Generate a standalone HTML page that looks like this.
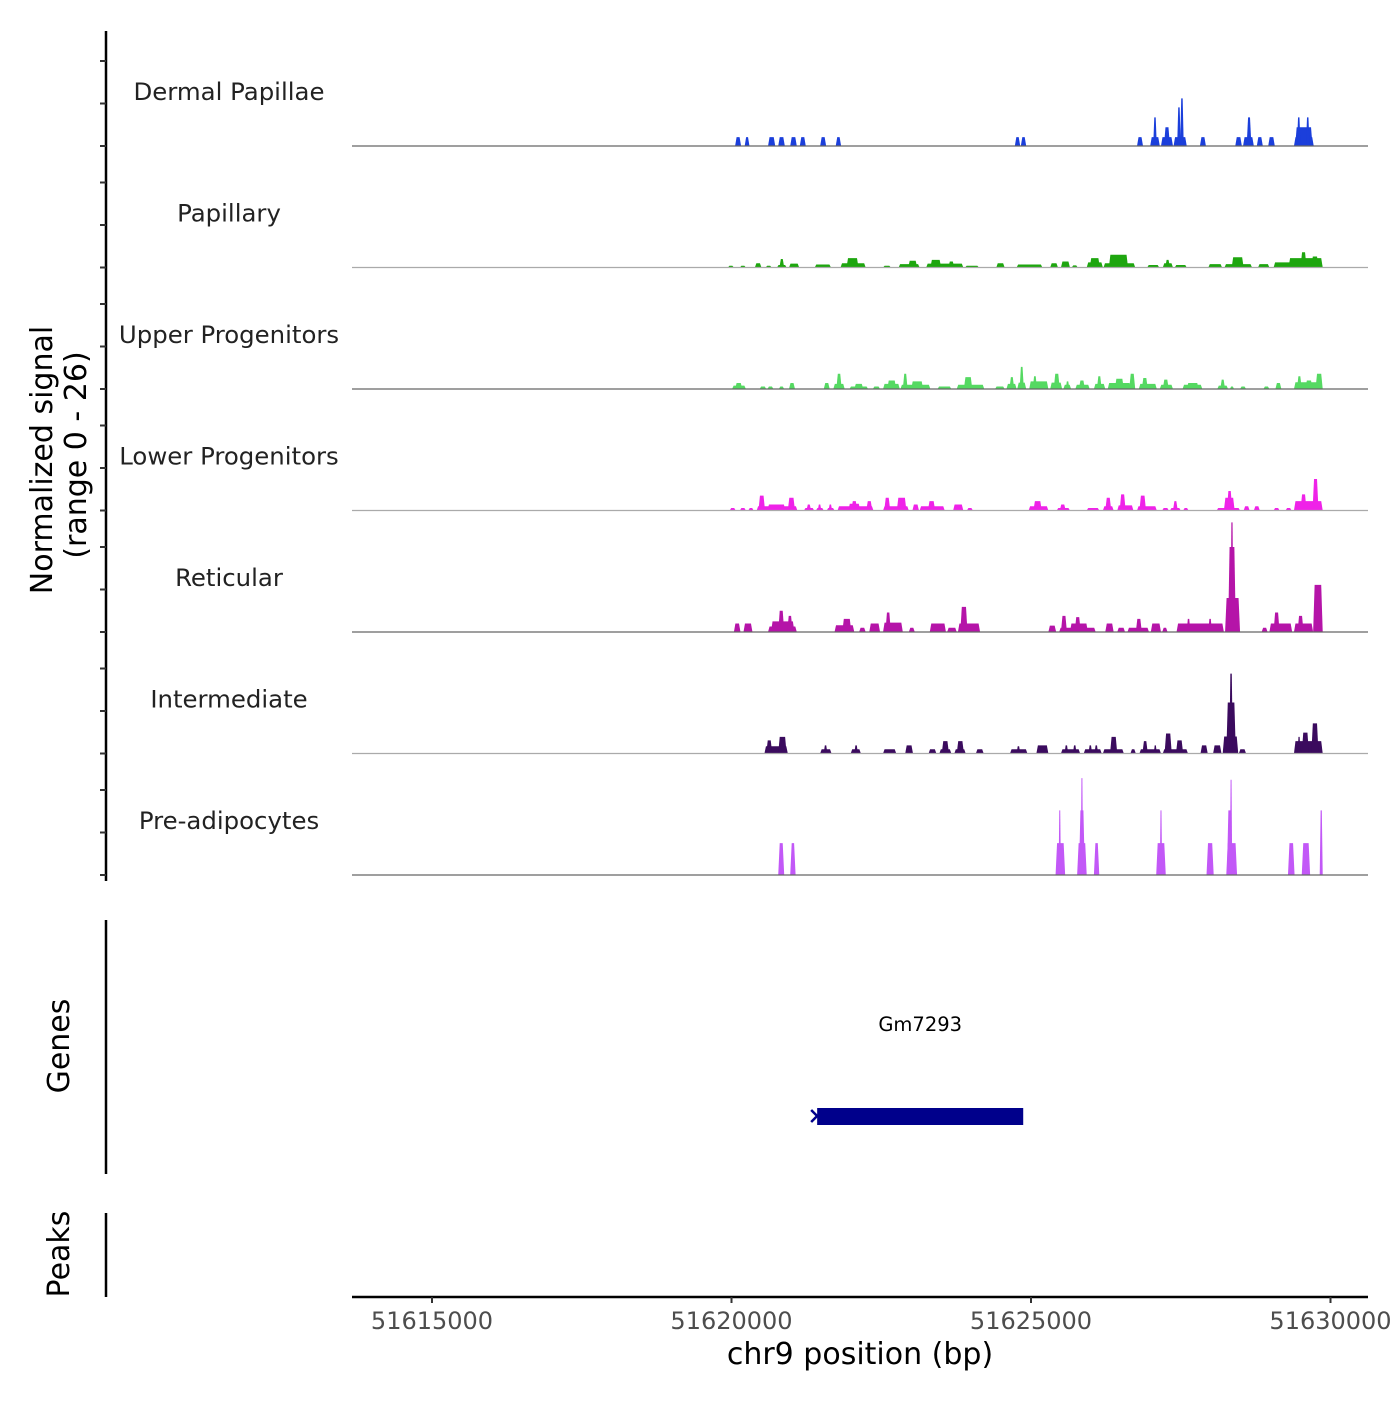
<!DOCTYPE html>
<html><head><meta charset="utf-8"><style>
html,body{margin:0;padding:0;background:#fff;}
svg text{font-family:"DejaVu Sans","Liberation Sans",sans-serif;}
</style></head><body>
<svg id="chart" width="1400" height="1400" viewBox="0 0 1400 1400" xmlns="http://www.w3.org/2000/svg">
<rect width="1400" height="1400" fill="#fff"/>
<g id="tracks"></g>
<g id="yaxis">
  <line x1="106" y1="31" x2="106" y2="881" stroke="#000" stroke-width="2.5"/>
</g>
<text transform="translate(52,460) rotate(-90)" text-anchor="middle" font-size="30" fill="#000">Normalized signal</text>
<text transform="translate(86,455) rotate(-90)" text-anchor="middle" font-size="30" fill="#000">(range 0 - 26)</text>
<line x1="106" y1="920" x2="106" y2="1174" stroke="#000" stroke-width="2.5"/>
<text transform="translate(69,1046) rotate(-90)" text-anchor="middle" font-size="30" fill="#000">Genes</text>
<line x1="106" y1="1213" x2="106" y2="1297" stroke="#000" stroke-width="2.5"/>
<text transform="translate(69,1254) rotate(-90)" text-anchor="middle" font-size="30" fill="#000">Peaks</text>
<g id="genes"></g>
<g id="xaxis">
  <line x1="352" y1="1297" x2="1368" y2="1297" stroke="#000" stroke-width="2.5"/>
</g>
<text x="860" y="1364" text-anchor="middle" font-size="30" fill="#000">chr9 position (bp)</text>
</svg>
<script>
// positions in kb offset from 51620000 bp; values in normalized signal units
const origin = 51620000;
const trackNames = ["Dermal Papillae","Papillary","Upper Progenitors","Lower Progenitors","Reticular","Intermediate","Pre-adipocytes"];
const trackColors = ["#1b3fdb","#1ea60f","#55d962","#ef22e8","#b514a8","#3b0b5e","#c258f7"];
const xTicks = [51615000,51620000,51625000,51630000];
const geneName = "Gm7293";
const geneStart = 51621430;
const geneEnd = 51624870;
const dermalPapillae = [[0.06,0.16,2.1],[0.22,0.30,2.1],[0.61,0.73,2.1],[0.78,0.89,2.1],[0.98,1.09,2.1],[1.14,1.24,2.1],[1.48,1.58,2.1],[1.74,1.83,2.1],[4.73,4.82,2.1],[4.83,4.92,2.1],[6.77,6.87,2.1],[6.99,7.15,2.1],[7.04,7.10,6.75],[7.17,7.37,2.1],[7.22,7.32,4.4],[7.38,7.60,2.1],[7.44,7.50,9.1],[7.49,7.55,11.2],[7.82,7.92,2.1],[8.41,8.52,2.1],[8.54,8.72,2.1],[8.60,8.68,6.75],[8.77,8.87,2.1],[8.96,9.07,2.1],[9.39,9.72,2.1],[9.41,9.70,4.4],[9.44,9.50,6.75],[9.59,9.65,6.75]];
const papillary = [[-0.06,0.04,0.4],[0.14,0.24,0.4],[0.39,0.50,1.0],[0.57,0.67,0.4],[0.76,0.92,0.6],[0.80,0.88,2.0],[0.96,1.13,0.9],[1.39,1.66,0.7],[1.82,2.24,1.0],[1.92,2.12,2.2],[2.53,2.66,0.4],[2.79,3.14,0.8],[2.95,3.1,1.6],[3.25,3.87,0.9],[3.32,3.5,1.8],[3.62,3.72,1.4],[3.90,4.13,0.4],[4.42,4.56,1.0],[4.76,5.19,0.7],[5.32,5.45,1.0],[5.50,5.65,1.4],[5.68,5.78,0.5],[5.93,6.20,1.2],[5.98,6.15,2.2],[6.21,6.74,1.0],[6.3,6.62,3.0],[6.94,7.14,0.6],[7.20,7.37,1.0],[7.24,7.32,1.8],[7.40,7.60,0.6],[7.96,8.19,0.8],[8.23,8.69,0.8],[8.35,8.55,2.4],[8.79,8.98,0.8],[9.05,9.87,1.2],[9.3,9.87,2.2],[9.5,9.6,3.6],[9.68,9.8,2.6]];
const upperProgenitors = [[0.01,0.24,0.8],[0.06,0.18,1.4],[0.47,0.58,0.6],[0.6,0.7,0.6],[0.79,0.88,0.6],[0.96,1.06,1.4],[1.54,1.64,1.4],[1.70,1.89,1.2],[1.75,1.84,3.6],[1.97,2.28,0.6],[2.05,2.2,1.2],[2.36,2.48,0.6],[2.53,2.81,1.2],[2.6,2.75,2.0],[2.82,3.32,1.0],[2.86,2.94,3.6],[3.0,3.2,1.8],[3.44,3.67,0.6],[3.76,4.22,1.0],[3.88,4.02,2.8],[4.40,4.56,0.6],[4.59,4.76,1.2],[4.64,4.72,2.8],[4.77,4.92,1.5],[4.81,4.88,5.2],[4.97,5.29,1.8],[5.03,5.1,3.0],[5.32,5.52,1.5],[5.38,5.48,3.6],[5.54,5.67,1.0],[5.58,5.64,1.8],[5.74,5.98,1.0],[5.8,5.9,2.0],[6.05,6.24,1.2],[6.1,6.18,3.0],[6.28,6.67,1.4],[6.4,6.55,2.4],[6.64,6.74,3.6],[6.80,7.10,1.2],[6.85,6.95,2.6],[7.15,7.37,1.0],[7.2,7.3,2.2],[7.53,7.86,1.0],[7.6,7.8,1.4],[8.11,8.29,0.8],[8.16,8.24,2.2],[8.32,8.39,0.6],[8.49,8.59,0.6],[8.88,8.98,0.6],[9.08,9.18,1.4],[9.39,9.87,1.6],[9.44,9.52,3.0],[9.58,9.7,2.0],[9.75,9.87,3.6]];
const lowerProgenitors = [[-0.03,0.07,0.6],[0.14,0.24,0.6],[0.28,0.37,0.6],[0.42,1.10,1.0],[0.45,0.56,3.5],[0.6,0.9,1.4],[0.94,1.06,3.0],[1.21,1.38,0.6],[1.25,1.33,1.4],[1.41,1.54,0.6],[1.44,1.5,1.4],[1.59,1.72,0.6],[1.62,1.68,1.4],[1.77,2.37,1.0],[1.95,2.15,1.6],[2.0,2.1,2.2],[2.25,2.35,2.2],[2.53,2.96,1.0],[2.55,2.65,3.0],[2.76,2.92,3.0],[3.02,3.13,1.4],[3.14,3.56,1.0],[3.28,3.4,2.2],[3.70,3.87,1.4],[3.93,4.03,0.6],[4.96,5.29,1.0],[5.04,5.18,2.2],[5.43,5.65,0.6],[5.48,5.58,1.4],[5.93,6.14,0.6],[6.20,6.38,1.0],[6.24,6.34,3.0],[6.44,6.71,1.2],[6.48,6.58,3.8],[6.77,7.10,1.0],[6.81,6.92,3.5],[7.19,7.30,0.6],[7.32,7.50,0.6],[7.37,7.45,2.2],[7.54,7.63,0.6],[8.10,8.49,0.6],[8.22,8.40,3.0],[8.27,8.36,4.6],[8.55,8.65,1.0],[8.72,8.82,1.0],[9.05,9.15,0.6],[9.25,9.35,0.6],[9.39,9.87,2.2],[9.5,9.6,3.8],[9.7,9.8,7.4]];
const reticular = [[0.04,0.15,2.0],[0.20,0.35,2.0],[0.61,1.09,1.3],[0.66,1.05,2.5],[0.78,0.88,5.0],[0.93,1.02,3.8],[1.72,2.05,1.6],[1.85,2.0,3.1],[2.13,2.24,1.0],[2.30,2.48,2.0],[2.53,2.86,2.2],[2.57,2.66,4.6],[2.96,3.06,1.0],[3.31,3.58,2.0],[3.60,3.76,1.0],[3.78,4.15,2.0],[3.82,3.94,5.9],[5.29,5.42,1.5],[5.47,6.08,1.0],[5.65,5.95,2.0],[5.5,5.6,3.8],[5.73,5.83,3.5],[6.24,6.38,2.0],[6.44,6.57,1.0],[6.61,6.97,1.0],[6.75,6.85,3.1],[7.00,7.17,2.0],[7.19,7.28,1.0],[7.43,8.22,2.0],[7.6,7.66,3.1],[7.96,8.02,3.1],[8.24,8.49,8.0],[8.29,8.42,20.0],[8.33,8.38,25.8],[8.85,8.95,1.0],[8.98,9.36,2.0],[9.05,9.15,4.6],[9.39,9.71,2.0],[9.45,9.55,3.8],[9.71,9.87,11.1]];
const intermediate = [[0.55,0.94,1.7],[0.58,0.68,3.1],[0.78,0.92,3.9],[1.48,1.67,1.0],[1.54,1.6,1.9],[1.99,2.16,1.0],[2.05,2.11,1.9],[2.53,2.75,1.0],[2.90,3.03,1.9],[3.29,3.42,1.0],[3.47,3.67,1.0],[3.51,3.63,2.9],[3.72,3.91,1.0],[3.76,3.88,2.9],[4.08,4.21,1.0],[4.65,4.94,1.0],[4.76,4.82,1.7],[5.09,5.29,1.9],[5.50,5.82,1.0],[5.56,5.62,1.9],[5.7,5.76,1.9],[5.88,6.18,1.0],[5.96,6.02,1.9],[6.06,6.12,1.9],[6.20,6.55,1.0],[6.32,6.44,3.9],[6.66,6.75,1.0],[6.81,7.17,1.0],[6.86,6.95,2.9],[7.05,7.1,1.9],[7.20,7.62,1.0],[7.23,7.35,4.7],[7.42,7.54,3.1],[7.83,7.95,1.9],[8.04,8.18,1.9],[8.20,8.46,4.0],[8.26,8.42,12.0],[8.31,8.37,18.8],[8.47,8.59,1.0],[9.39,9.87,2.9],[9.45,9.5,3.9],[9.52,9.64,4.9],[9.68,9.8,7.1]];
const preAdipocytes = [[0.78,0.88,7.5],[0.98,1.07,7.5],[5.41,5.57,7.5],[5.46,5.50,15.2],[5.77,5.93,7.5],[5.80,5.90,15.2],[5.83,5.87,22.8],[6.05,6.14,7.5],[7.09,7.25,7.5],[7.15,7.19,15.2],[7.93,8.05,7.5],[8.26,8.44,7.5],[8.27,8.36,15.2],[8.32,8.36,22.4],[9.29,9.40,7.5],[9.52,9.66,7.5],[9.82,9.87,15.2]];
const trackData = [dermalPapillae,papillary,upperProgenitors,lowerProgenitors,reticular,intermediate,preAdipocytes];

const NS = "http://www.w3.org/2000/svg";
const svg = document.getElementById('chart');
function xScale(bp){ return 432 + (bp - 51615000) * 299.5 / 5000; }
const firstBaseline = 146, trackStep = 121.5, pxPerUnit = 4.25;
function yScale(v, i){ return firstBaseline + i*trackStep - v*pxPerUnit; }
function el(tag, attrs, parent){ const e=document.createElementNS(NS,tag); for(const k in attrs) e.setAttribute(k,attrs[k]); parent.appendChild(e); return e; }

const tracksG = document.getElementById('tracks');
const yAxisG = document.getElementById('yaxis');
trackData.forEach((bins, i) => {
  const base = yScale(0, i);
  const g = el('g', {}, tracksG);
  
  
  const lab = el('text', {x:229, y:base-46, 'text-anchor':'middle', 'font-size':24.4, fill:'#222'}, g);
  lab.textContent = trackNames[i];
  
  
  bins.forEach(b => {
    const s = xScale(origin + b[0]*1000), e = xScale(origin + b[1]*1000);
    const t = Math.min(1.5, (e - s) * 0.3);
    const top = yScale(b[2], i);
    const p = el('path', {d:`M${s},${base}L${s+t},${top}L${e-t},${top}L${e},${base}Z`, fill:trackColors[i]}, g);
    
    
  });
  const bl = el('line', {x1:352, x2:1368, y1:base, y2:base, stroke: i%2===0 ? '#666' : '#aaa', 'stroke-width':1.2}, g);
  
  
  [0, 10, 20].forEach(v => {
    const ty = yScale(v, i);
    const tk = el('line', {x1:100, x2:106, y1:ty, y2:ty, stroke:'#333', 'stroke-width':2}, yAxisG);
    
    
  });
});

const xAxisG = document.getElementById('xaxis');
xTicks.forEach(t => {
  const x = xScale(t);
  const tk = el('line', {x1:x, x2:x, y1:1297, y2:1303, stroke:'#333', 'stroke-width':2}, xAxisG);
  
  
  const tl = el('text', {x:x, y:1329, 'text-anchor':'middle', 'font-size':24, fill:'#4d4d4d'}, xAxisG);
  tl.textContent = t;
  
  
});

const genesG = document.getElementById('genes');
const gs = xScale(geneStart), ge = xScale(geneEnd);
const gl = el('text', {x:(gs+ge)/2, y:1031, 'text-anchor':'middle', 'font-size':19.5, fill:'#000'}, genesG);
gl.textContent = geneName;


const gb = el('rect', {x:gs, y:1108, width:ge-gs, height:17, fill:'#00008b'}, genesG);


const ga = el('path', {d:`M${gs-6},${1110}L${gs},${1116}L${gs-6},${1122}`, fill:'none', stroke:'#00008b', 'stroke-width':2.5}, genesG);


</script>
</body></html>
